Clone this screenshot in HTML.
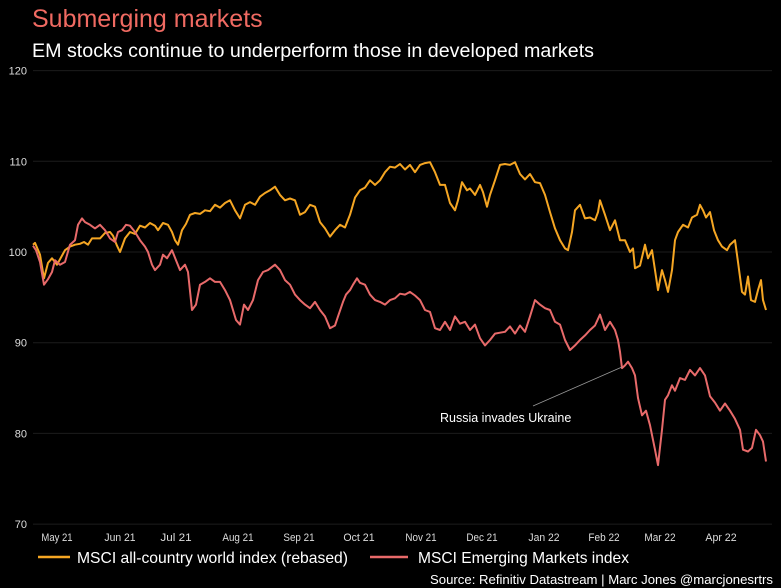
<!DOCTYPE html>
<html><head><meta charset="utf-8"><style>
html,body{margin:0;padding:0;background:#000;}
svg{display:block;font-family:"Liberation Sans",sans-serif;}
</style></head><body>
<svg id="chart" width="781" height="588" viewBox="0 0 781 588" xmlns="http://www.w3.org/2000/svg">
<rect width="781" height="588" fill="#000"/>
<text x="32" y="27" fill="#f06a62" font-size="25">Submerging markets</text>
<text x="32" y="57" fill="#fff" font-size="19" textLength="562" lengthAdjust="spacingAndGlyphs">EM stocks continue to underperform those in developed markets</text>
<g id="grid"></g>
<g id="yticks"></g>
<g id="xticks"></g>
<g id="series"></g>
<line x1="533" y1="406" x2="622" y2="367" stroke="#999" stroke-width="0.8"/>
<text x="440" y="422" fill="#fff" font-size="12.5">Russia invades Ukraine</text>
<g>
<line x1="38" y1="557" x2="70" y2="557" stroke="#f5a623" stroke-width="2.5"/>
<text x="77" y="563" fill="#fff" font-size="16" textLength="271" lengthAdjust="spacingAndGlyphs">MSCI all-country world index (rebased)</text>
<line x1="370" y1="557" x2="408" y2="557" stroke="#e86a6a" stroke-width="2.5"/>
<text x="418" y="563" fill="#fff" font-size="16" textLength="211" lengthAdjust="spacingAndGlyphs">MSCI Emerging Markets index</text>
</g>
<text x="430" y="584" fill="#fff" font-size="13" textLength="343" lengthAdjust="spacingAndGlyphs">Source: Refinitiv Datastream | Marc Jones @marcjonesrtrs</text>
</svg>
<script>
const yTicks = [70, 80, 90, 100, 110, 120];
const monthLabels = ["May 21","Jun 21","Jul 21","Aug 21","Sep 21","Oct 21","Nov 21","Dec 21","Jan 22","Feb 22","Mar 22","Apr 22"];
const monthDays = [12, 43.5, 71.5, 102.5, 133, 163, 194, 224.5, 255.5, 285.5, 313.5, 344];
const acwiDays = [0,1,3.5,5.5,7.5,9.5,12,14.5,16,18.5,21,23.5,25.5,27.5,29.5,32,33.5,36,38.5,40,42,43.5,46,48.5,51,53.5,56,58.5,61,62.5,65,67.5,69.5,71,72.5,74.5,76.5,78.5,81,83.5,86,88.5,91,93.5,96,98.5,101,103.5,106,108.5,111,113.5,116,118.5,121,123.5,126,128.5,131,133.5,136,138.5,141,143.5,146,148.5,151,153.5,156,158.5,161,163.5,166,168.5,171,173.5,176,178.5,181,183.5,186,188.5,191,193.5,196,198.5,201,203.5,206,208.5,211,212.5,214.5,217,218.5,221,223.5,225,227,228.5,231,233.5,236,238.5,241,243.5,246,248.5,251,253.5,256,258.5,261,263.5,266,267.5,269.5,271,273.5,276,278.5,281,282.5,283.5,286,288.5,291,293.5,296,298.5,300,301,303.5,306,307.5,309.5,311,312.5,314.5,316,317.5,319.5,321,322.5,325,327.5,329.5,332,333.5,335,336.5,338.5,340.5,342.5,344.5,347,348.5,351,352.5,354.5,356,357.5,359,361,362.5,364,365,366.5];
const acwiValues = [100.8,101,99.7,97.1,98.8,99.3,98.6,99.6,100.2,100.6,100.8,100.9,101.1,100.8,101.5,101.5,101.5,102.1,102.2,101.8,100.7,100,101.5,102.2,102,102.9,102.7,103.2,102.9,102.4,103.2,103,102.2,101.3,100.8,102.4,103.1,104.1,104.3,104.2,104.6,104.5,105.2,104.9,105.4,105.7,104.6,103.7,105.2,105.5,105.2,106.1,106.5,106.8,107.2,106.3,105.7,105.9,105.7,104.1,104.4,105.2,105,103.3,102.6,101.7,102.4,103,102.7,104.1,106,106.8,107.1,107.9,107.4,107.9,108.8,109.4,109.3,109.7,109.1,109.6,108.8,109.6,109.8,109.9,108.8,107.4,107.4,105.4,104.6,105.7,107.7,106.8,107,106.3,107.4,106.6,105,106.3,107.9,109.6,109.7,109.6,109.9,108.6,108,108.6,107.7,107.6,106.3,104.4,102.6,101.3,100.4,100.2,102.2,104.6,105.2,103.7,103.8,103.5,104.4,105.7,104.1,102.4,103.5,101.3,101.3,100,100.4,98.2,98.5,100.8,99.3,100.2,98,95.8,98,96.9,95.6,98,101.3,102.2,103,102.7,103.8,104.1,105.2,104.6,103.8,104.4,102.4,101.3,100.6,100.2,100.8,101.3,98.9,95.6,95.3,97.3,94.7,94.5,95.8,96.9,94.7,93.6];
const emDays = [0,1.5,3.5,5.5,7.5,9.5,11,13.5,16,18.5,21,22.5,24.5,26,28.5,31,33.5,36,38.5,41,42.5,44.5,46.5,48.5,51,53.5,56,57.5,59.5,61,63.5,65,67,69.5,71.5,73.5,76,77.5,79.5,81.5,83.5,86,88.5,91,93.5,96,98.5,101.5,103.5,105.5,107.5,110,112.5,115,117.5,121,123.5,126,128.5,131,133.5,136,138.5,141,143.5,146,148.5,151,152.5,155,156.5,158.5,160,162,163.5,166,168.5,171,173.5,176,178.5,181,183.5,186,188.5,191,193.5,196,198.5,201,203.5,206,208.5,211,213.5,216,218.5,221,223.5,226,228.5,231,233.5,236,238.5,241,243.5,246,248.5,251,253.5,256,258.5,261,263.5,266,268.5,271,273.5,276,278.5,281,283.5,286,288.5,291,292.5,293.5,294.5,296,297.5,299.5,301,302.5,304.5,306.5,308.5,311,312.5,314.5,316,317.5,319.5,321,323.5,326,328.5,331,333.5,336,338.5,341,343.5,346,348.5,351,353.5,355,357.5,359.5,361.5,363.5,365,366.5];
const emValues = [100.7,100.2,98.9,96.4,97,97.8,99.1,98.6,98.9,100.8,101.3,103,103.7,103.3,103,102.6,103,102.4,101.5,101.1,102.2,102.4,103,102.9,102.2,101.3,100.6,100,98.6,98,98.6,99.7,99.3,100.2,99.1,98,98.6,97.8,93.6,94.2,96.4,96.7,97.1,96.7,96.7,95.8,94.7,92.5,92,94.2,93.6,94.7,96.9,97.8,98,98.6,98,96.9,96.4,95.3,94.7,94.2,93.8,94.5,93.6,92.9,91.6,91.9,92.9,94.5,95.3,95.8,96.4,97.1,96.6,96.4,95.3,94.7,94.5,94.2,94.7,94.9,95.4,95.3,95.6,95.2,94.7,93.6,93.4,91.6,91.4,92.3,91.4,92.9,92.1,92.3,91.4,92,90.5,89.7,90.3,91,91.1,91.2,91.8,91,91.9,91.2,92.9,94.7,94.2,93.8,93.6,92.3,92,90.3,89.2,89.7,90.3,90.8,91.4,91.9,93.1,91.4,92.3,91.4,90.3,89,87.2,87.5,87.9,87.2,86.4,83.9,82,82.5,80.9,78.2,76.5,80.4,83.7,84.2,85.3,84.7,86.1,85.9,87,86.4,87.2,86.4,84.1,83.4,82.5,83.3,82.5,81.6,80.4,78.2,78,78.4,80.4,79.8,79.1,76.9];

const NS = "http://www.w3.org/2000/svg";
function xScale(d){ return 33 + d * (733 / 366.5); }
function yScale(v){ return 252 - (v - 100) * 9.07; }

const grid = document.getElementById('grid');
const yt = document.getElementById('yticks');
yTicks.forEach(v => {
  const l = document.createElementNS(NS, 'line');
  
  
  l.setAttribute('x1', 33); l.setAttribute('x2', 772);
  l.setAttribute('y1', yScale(v)); l.setAttribute('y2', yScale(v));
  l.setAttribute('stroke', '#1c1c1c'); l.setAttribute('stroke-width', '1');
  grid.appendChild(l);
  const t = document.createElementNS(NS, 'text');
  
  
  t.setAttribute('x', 27); t.setAttribute('y', yScale(v) + 4);
  t.setAttribute('text-anchor', 'end'); t.setAttribute('fill', '#ddd');
  t.setAttribute('font-size', '11');
  t.textContent = v;
  yt.appendChild(t);
});
const xt = document.getElementById('xticks');
monthLabels.forEach((m, i) => {
  const t = document.createElementNS(NS, 'text');
  
  
  t.setAttribute('x', xScale(monthDays[i])); t.setAttribute('y', 541);
  t.setAttribute('text-anchor', 'middle'); t.setAttribute('fill', '#ddd');
  t.setAttribute('font-size', '11');
  t.setAttribute('textLength', m.length * 5.2);
  t.setAttribute('lengthAdjust', 'spacingAndGlyphs');
  t.textContent = m;
  xt.appendChild(t);
});
const sg = document.getElementById('series');
function drawLine(days, vals, color, name){
  const p = document.createElementNS(NS, 'path');
  
  
  p.setAttribute('d', days.map((d, i) => (i ? 'L' : 'M') + xScale(d).toFixed(1) + ',' + yScale(vals[i]).toFixed(1)).join(''));
  p.setAttribute('fill', 'none'); p.setAttribute('stroke', color);
  p.setAttribute('stroke-width', '2'); p.setAttribute('stroke-linejoin', 'round');
  sg.appendChild(p);
}
drawLine(acwiDays, acwiValues, '#f5a623', 'acwi-line');
drawLine(emDays, emValues, '#e86a6a', 'em-line');
</script>
</body></html>
